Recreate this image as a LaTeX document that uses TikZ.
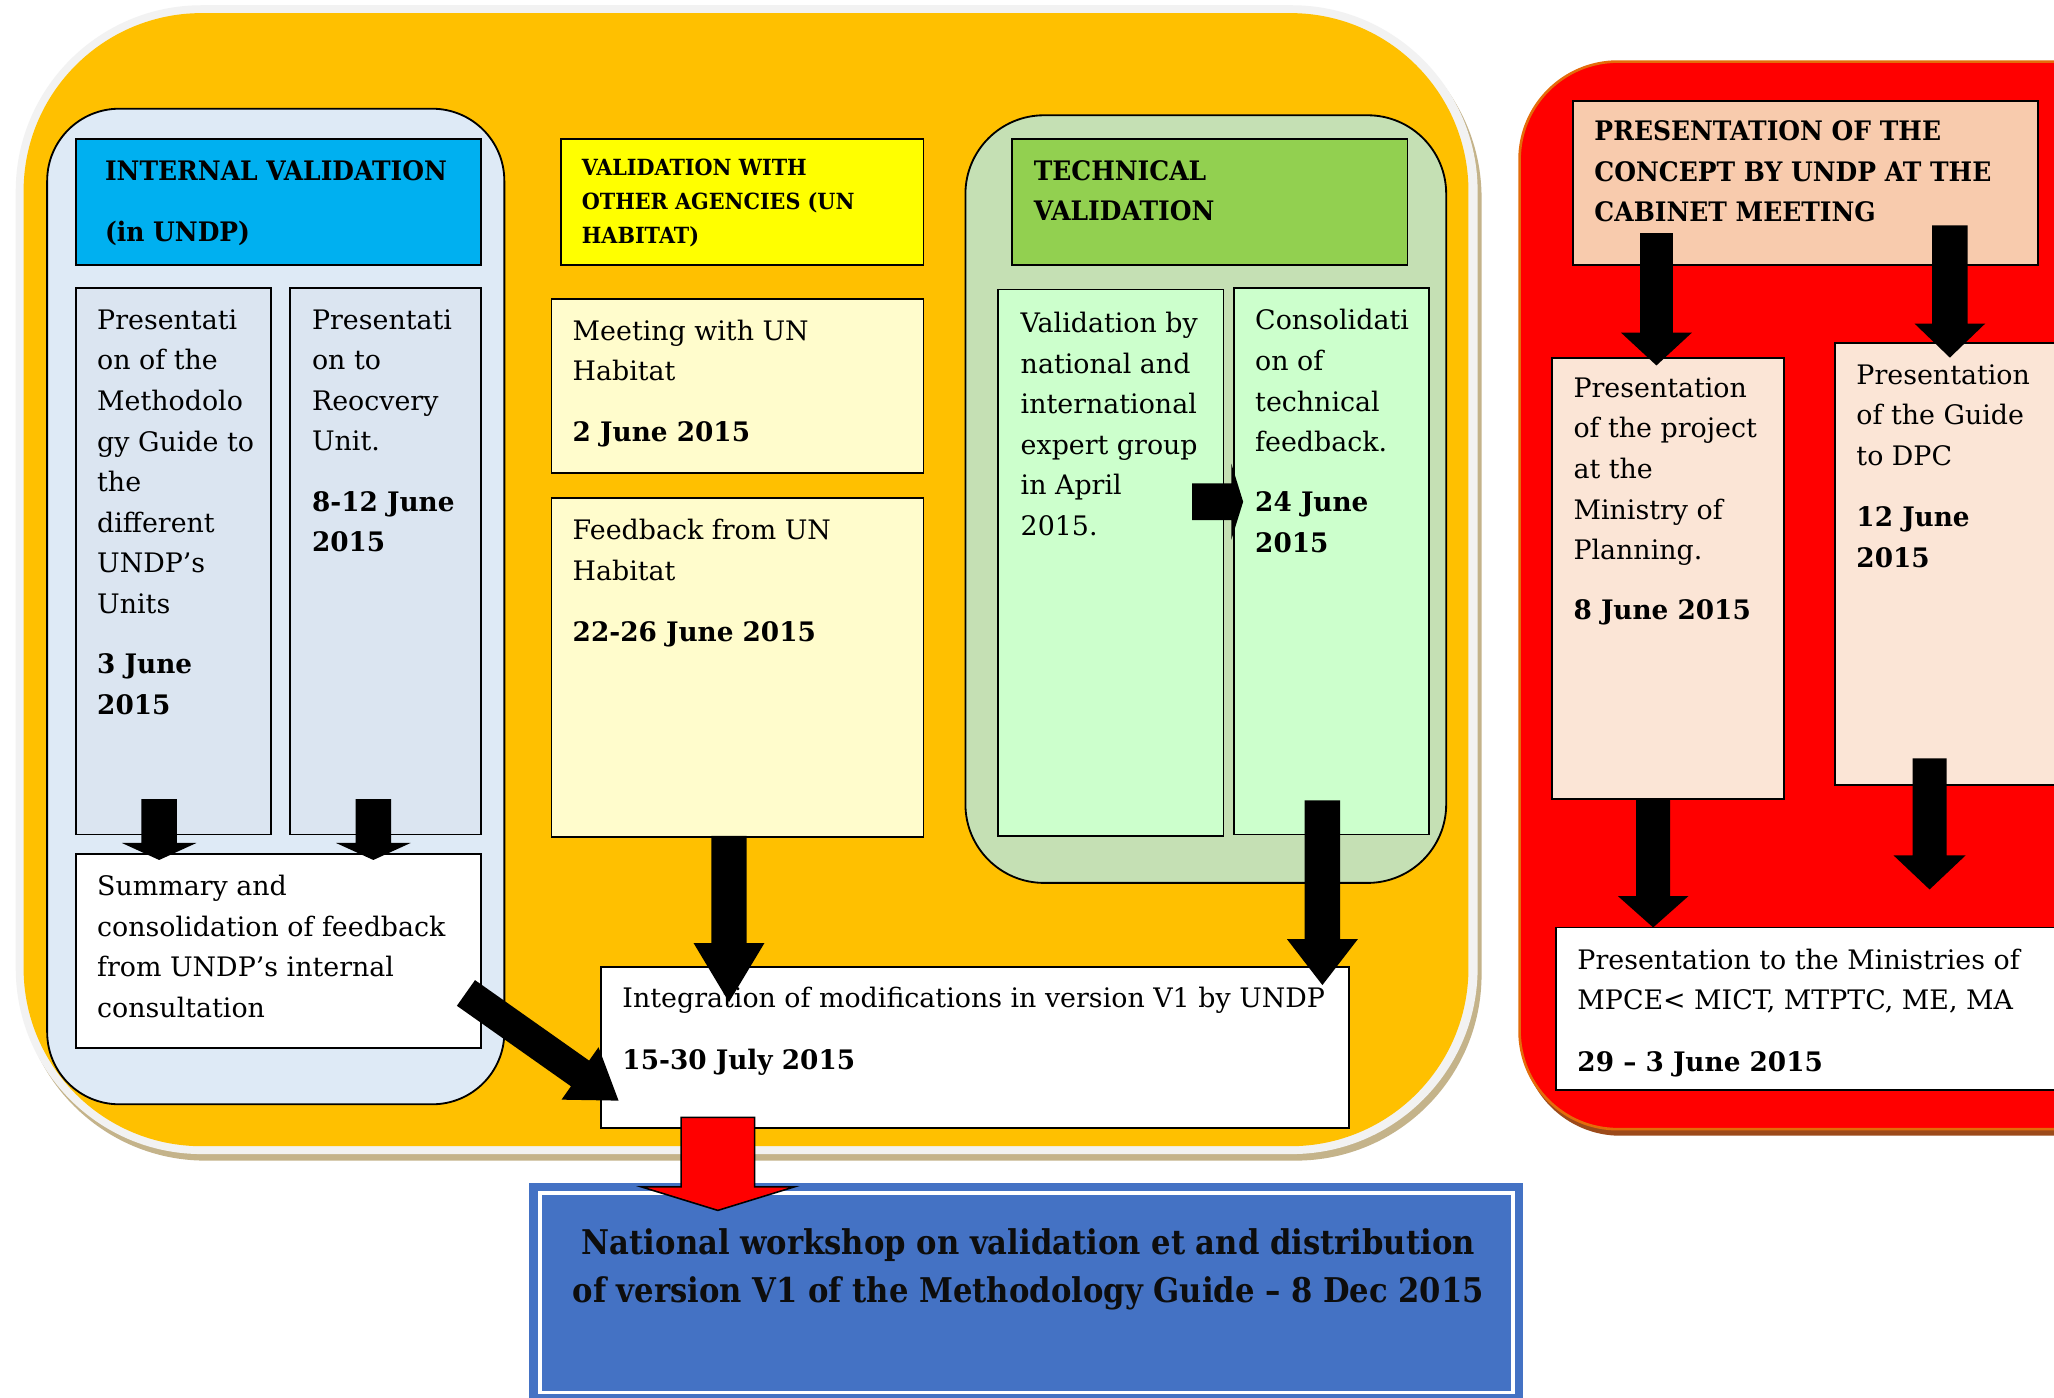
\documentclass[tikz,border=0pt]{standalone}
\usepackage{fontspec}
\setmainfont{DejaVu Serif}[BoldFeatures={FakeStretch=0.98}, Ligatures=ResetAll]
\newfontfamily\hdrfont{DejaVu Serif Bold}[FakeStretch=0.93]
\newfontfamily\bluefont{DejaVu Serif Bold}[FakeStretch=0.9]
\usetikzlibrary{calc}
\definecolor{orangeF}{HTML}{FFC000}
\definecolor{grayBd}{HTML}{F2F2F2}
\definecolor{tanSh}{HTML}{C4B38A}
\definecolor{grpBlue}{HTML}{DEEAF6}
\definecolor{hdrBlue}{HTML}{00B0F0}
\definecolor{boxBlue}{HTML}{DBE5F1}
\definecolor{hdrYel}{HTML}{FFFF00}
\definecolor{boxYel}{HTML}{FFFCCC}
\definecolor{grpGreen}{HTML}{C5E0B4}
\definecolor{hdrGreen}{HTML}{92D050}
\definecolor{boxGreen}{HTML}{CCFFCC}
\definecolor{redF}{HTML}{FF0000}
\definecolor{redBd}{HTML}{E46C0A}
\definecolor{redSh}{HTML}{9C4A1A}
\definecolor{hdrPeach}{HTML}{F8CBAD}
\definecolor{boxPeach}{HTML}{FBE5D6}
\definecolor{blueF}{HTML}{4472C4}
\newcommand\blkarrow[6][fill=black]{%
  \coordinate (ba) at ($(#3)!#6!(#2)$);
  \path[#1] ($(#2)!#4!90:(#3)$) -- ($(ba)!#4!90:(#3)$) -- ($(ba)!#5!90:(#3)$) -- (#3)
    -- ($(ba)!#5!-90:(#3)$) -- ($(ba)!#4!-90:(#3)$) -- ($(#2)!#4!-90:(#3)$) -- cycle;}
\tikzset{
  box/.style={draw=black, line width=1.4pt, anchor=north west, inner sep=0pt, outer sep=0pt},
  grp/.style={anchor=north west, inner sep=0pt, outer sep=0pt},
  txt/.style={anchor=north west, align=left, inner sep=0pt, font=\fontsize{20.5}{31}\selectfont},
  hdr/.style={txt, font=\fontsize{20.5}{31}\selectfont\hdrfont},
}
\begin{document}
\begin{tikzpicture}[x=1pt,y=-1pt]
\clip (0,0) rectangle (1568,1067);
\fill[white] (0,0) rectangle (1568,1067);
% ---- big orange group
\node[grp, fill=tanSh, rounded corners=142pt, minimum width=1116pt, minimum height=877pt] (oshadow) at (15,9) {};
\node[grp, fill=grayBd, rounded corners=142pt, minimum width=1116pt, minimum height=877pt] (outer) at (12,4) {};
\node[grp, fill=orangeF, rounded corners=136pt, minimum width=1103pt, minimum height=865pt] (orange) at (18,10) {};
% ---- red group
\node[grp, fill=redSh, rounded corners=75pt, minimum width=480pt, minimum height=816pt] (rshadow) at (1162,51) {};
\node[grp, fill=redF, draw=redBd, line width=2pt, rounded corners=75pt, minimum width=480pt, minimum height=815pt] (redgrp) at (1160,47) {};
% ---- internal validation group
\node[grp, fill=grpBlue, draw=black, line width=1.4pt, rounded corners=55pt, minimum width=349pt, minimum height=760pt] (intgrp) at (36,83) {};
\node[box, fill=hdrBlue, minimum width=309pt, minimum height=96pt] (inthdr) at (58,106) {};
\node[box, fill=boxBlue, minimum width=149pt, minimum height=417pt] (b1) at (58,220) {};
\node[box, fill=boxBlue, minimum width=146pt, minimum height=417pt] (b2) at (221.5,220) {};
\node[box, fill=white, minimum width=309pt, minimum height=148pt] (bsum) at (58,652) {};
% ---- other agencies
\node[box, fill=hdrYel, minimum width=277pt, minimum height=96pt] (yelhdr) at (428,106) {};
\node[box, fill=boxYel, minimum width=284pt, minimum height=133pt] (bmeet) at (421,228) {};
\node[box, fill=boxYel, minimum width=284pt, minimum height=259pt] (bfeed) at (421,380) {};
% ---- technical group
\node[grp, fill=grpGreen, draw=black, line width=1.4pt, rounded corners=60pt, minimum width=367pt, minimum height=586pt] (techgrp) at (737,88) {};
\node[box, fill=hdrGreen, minimum width=302pt, minimum height=96pt] (techhdr) at (772.5,106) {};
\node[box, fill=boxGreen, minimum width=172pt, minimum height=417pt] (bval) at (762,221) {};
\node[box, fill=boxGreen, minimum width=149pt, minimum height=417pt] (bcons) at (942,220) {};
% ---- integration
\node[box, fill=white, minimum width=571pt, minimum height=123pt] (bint) at (459,738) {};
% ---- red group content
\node[box, fill=hdrPeach, minimum width=355pt, minimum height=125pt] (redhdr) at (1201,77) {};
\node[box, fill=boxPeach, minimum width=177pt, minimum height=337pt] (bpl) at (1185,273) {};
\node[box, fill=boxPeach, minimum width=200pt, minimum height=337pt] (bpr) at (1401,262) {};
\node[box, fill=white, minimum width=400pt, minimum height=124pt] (bmin) at (1188,708) {};
% ---- blue final box
\node[grp, fill=blueF, minimum width=759pt, minimum height=180pt] (bblue) at (404,903) {};
\draw[white, line width=3pt] (412,911) rectangle (1155,1063);
% ---- texts
\node[hdr] (tinthdr) at (80,122) {INTERNAL VALIDATION\\[16pt](in UNDP)};
\node[txt] (t1) at (74,236) {Presentati\\on of the\\Methodolo\\gy Guide to\\the\\different\\UNDP’s\\Units\\[15pt]\textbf{3 June}\\\textbf{2015}};
\node[txt] (t2) at (238,236) {Presentati\\on to\\Reocvery\\Unit.\\[15pt]\textbf{8-12 June}\\\textbf{2015}};
\node[txt] (tsum) at (74,668) {Summary and\\consolidation of feedback\\from UNDP's internal\\consultation};
\node[txt, font=\fontsize{17}{26}\selectfont\hdrfont] (tyel) at (444,121) {VALIDATION WITH\\OTHER AGENCIES (UN\\HABITAT)};
\node[txt] (tmeet) at (437,244) {Meeting with UN\\Habitat\\[15pt]\textbf{2 June 2015}};
\node[txt] (tfeed) at (437,396) {Feedback from UN\\Habitat\\[16pt]\textbf{22-26 June 2015}};
\node[txt] (tint) at (475,753) {Integration of modifications in version V1 by UNDP\\[17pt]\textbf{15-30 July 2015}};
\node[hdr] (ttech) at (789,122) {TECHNICAL\\VALIDATION};
\node[txt] (tval) at (779,238) {Validation by\\national and\\international\\expert group\\in April\\2015.};
\node[txt] (tcons) at (958,236) {Consolidati\\on of\\technical\\feedback.\\[15pt]\textbf{24 June}\\\textbf{2015}};
\node[hdr] (tred) at (1217,92) {PRESENTATION OF THE\\CONCEPT BY UNDP AT THE\\CABINET MEETING};
\node[txt] (tpl) at (1201,288) {Presentation\\of the project\\at the\\Ministry of\\Planning.\\[15pt]\textbf{8 June 2015}};
\node[txt] (tpr) at (1417,278) {Presentation\\of the Guide\\to DPC\\[16pt]\textbf{12 June}\\\textbf{2015}};
\node[txt] (tmin) at (1204,724) {Presentation to the Ministries of\\MPCE< MICT, MTPTC, ME, MA\\[16pt]\textbf{29 – 3 June 2015}};
\node[align=center, inner sep=0pt, text=black!95, font=\fontsize{26}{37}\selectfont\bluefont] (tblue) at (785,969) {National workshop on validation et and distribution\\of version V1 of the Methodology Guide – 8 Dec 2015};
% ---- arrows
\coordinate (a1s) at (121.5,610); \coordinate (a1e) at (121.5,656.5);
\coordinate (a2s) at (285,610);   \coordinate (a2e) at (285,656.5);
\coordinate (a3s) at (556.5,638); \coordinate (a3e) at (556.5,765);
\coordinate (a4s) at (1009.5,611); \coordinate (a4e) at (1009.5,752);
\coordinate (a5s) at (910,383);   \coordinate (a5e) at (949,383);
\coordinate (a6s) at (1264.5,178); \coordinate (a6e) at (1264.5,279);
\coordinate (a7s) at (1488.5,172); \coordinate (a7e) at (1488.5,273);
\coordinate (a8s) at (1262,610);  \coordinate (a8e) at (1262,708);
\coordinate (a9s) at (1473,579);  \coordinate (a9e) at (1473,679);
\coordinate (adS) at (355.7,758); \coordinate (adE) at (472.2,840.2);
\coordinate (arS) at (548,853);   \coordinate (arE) at (548,924);
\blkarrow{a1s}{a1e}{13.5pt}{28.5pt}{13pt}
\blkarrow{a2s}{a2e}{13.5pt}{28.5pt}{13pt}
\blkarrow{a3s}{a3e}{13.5pt}{27pt}{45pt}
\blkarrow{a4s}{a4e}{13.5pt}{27pt}{35pt}
\blkarrow{a5s}{a5e}{14pt}{29pt}{9pt}
\blkarrow{a6s}{a6e}{12.5pt}{27pt}{25pt}
\blkarrow{a7s}{a7e}{13.5pt}{27pt}{26pt}
\blkarrow{a8s}{a8e}{13pt}{27pt}{24pt}
\blkarrow{a9s}{a9e}{13pt}{27.5pt}{26pt}
\blkarrow{adS}{adE}{12pt}{24.5pt}{36pt}
\blkarrow[fill=redF, draw=black, line width=1.2pt]{arS}{arE}{28pt}{58.5pt}{18pt}
\end{tikzpicture}
\end{document}
